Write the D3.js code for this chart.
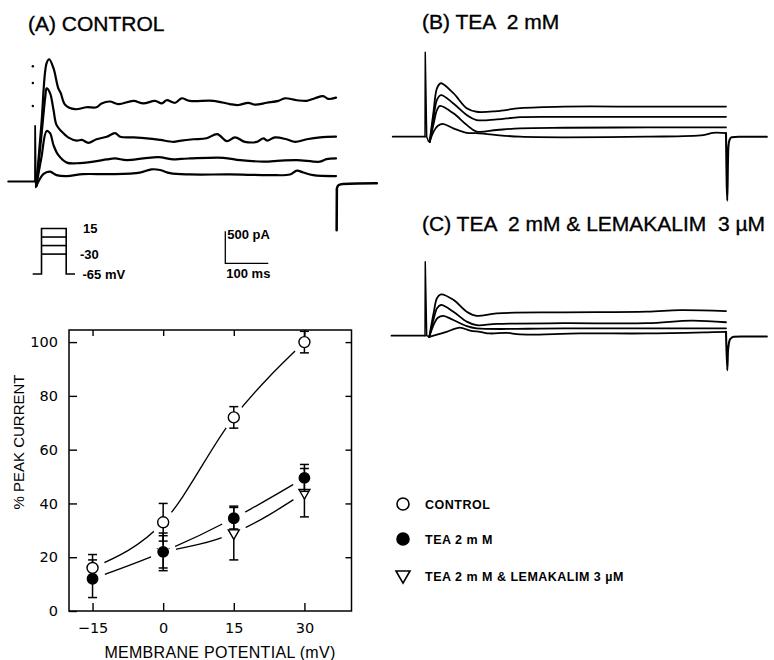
<!DOCTYPE html>
<html><head><meta charset="utf-8">
<script src="https://cdn.jsdelivr.net/npm/d3@7"></script>
<style>
body{margin:0;background:#fff}
svg text{font-family:"Liberation Sans",Arial,Helvetica,sans-serif;fill:#000}
.title{font-size:21px;white-space:pre;stroke:#000;stroke-width:0.35px}
.small{font-size:13px;font-weight:bold}
.legend{font-size:12.5px;font-weight:bold;letter-spacing:0.5px}
.tick text{font-family:"DejaVu Sans",sans-serif;font-size:14.5px}
.axtitle{font-size:16px}
</style></head><body>
<svg id="fig" width="774" height="660"></svg>
<script>
// ---------- whole-cell currents: [time after step onset (ms), current (pA)] ----------
// (A) control, four steps (15, 0, -15, -30 mV from -65 mV)
const controlHolding = [[-62, 0], [0, 0]];
const controlSpike = [[0, 0], [0.3, 870], [2, -90], [3, -70]];
const controlTraces = [
  [[3,-70],[15,900],[27,1850],[33,1910],[43,1770],[54,1460],[60,1380],[70,1200],[93,1130],[120,1160],[143,1160],[155,1220],[174,1250],[194,1210],[229,1260],[252,1220],[279,1260],[295,1220],[306,1270],[326,1230],[341,1300],[360,1260],[415,1260],[453,1210],[473,1195],[496,1230],[512,1200],[539,1230],[566,1260],[581,1300],[609,1270],[632,1260],[651,1300],[670,1335],[682,1290],[700,1310]],
  [[3,-70],[15,720],[24,1330],[27,1455],[35,1380],[43,1120],[50,885],[62,780],[77,690],[97,640],[109,650],[124,605],[143,660],[167,700],[186,755],[198,700],[229,690],[260,675],[291,650],[322,620],[340,640],[368,660],[399,675],[424,740],[446,630],[465,690],[488,620],[516,620],[531,675],[540,640],[558,690],[585,660],[605,620],[632,660],[663,690],[700,700]],
  [[3,-70],[15,380],[27,790],[35,755],[43,570],[54,415],[74,295],[97,285],[136,310],[167,345],[186,360],[213,335],[252,360],[287,380],[322,345],[340,355],[360,360],[438,370],[477,335],[531,310],[570,325],[609,335],[663,310],[678,350],[700,360]],
  [[3,-70],[20,120],[35,155],[50,100],[74,85],[112,115],[174,115],[244,140],[271,190],[291,180],[314,130],[360,110],[453,110],[546,100],[593,110],[609,170],[624,140],[647,100],[700,85]]
];
const controlTail = [[701.5,-760],[702,-110],[706,-55],[716,-38],[750,-30],[795,-28]];
const controlDots = [[-5,1800],[-5,1540],[-5,1180]];

// (B) TEA 2 mM
const teaHolding = [[-75, 0], [0, 0]];
const teaSpike = [[0, 0], [0.6, 1320], [4, 0], [8, -70], [11, -80]];
const teaTraces = [
  [[11,-80],[20,400],[28,760],[37,835],[66,680],[97,445],[120,390],[167,400],[221,445],[322,470],[516,470],[700,470]],
  [[11,-80],[20,300],[28,580],[37,650],[66,520],[97,340],[120,260],[167,270],[221,305],[322,310],[516,310],[700,310]],
  [[11,-80],[20,200],[28,420],[35,480],[66,365],[97,185],[120,80],[167,105],[221,130],[322,140],[516,145],[700,145]],
  [[11,-80],[20,80],[30,170],[41,200],[66,130],[97,60],[120,55],[167,25],[221,0],[322,-10],[516,0],[647,25],[670,60],[700,55]]
];
const teaTail = [[700,55],[703,-1000],[704.5,-400],[705.5,-160],[708,-55],[713,-10],[730,0],[795,0]];

// (C) TEA 2 mM & lemakalim 3 µM
const lemHolding = [[-78, 0], [0, 0]];
const lemSpike = [[0, 0], [0.6, 1155], [4, 0], [10, -20]];
const lemTraces = [
  [[10,-20],[20,350],[28,590],[37,645],[66,560],[97,375],[120,310],[167,350],[322,365],[516,375],[593,400],[700,385]],
  [[10,-20],[20,260],[28,430],[37,480],[66,375],[97,220],[120,165],[167,185],[322,195],[516,195],[620,235],[700,210]],
  [[10,-20],[20,170],[30,280],[42,310],[66,245],[97,150],[120,115],[322,115],[700,115]],
  [[10,-20],[30,20],[50,60],[81,125],[105,80],[128,60],[151,35],[190,45],[221,20],[360,35],[516,35],[670,55],[700,60]]
];
const lemTail = [[700,60],[703,-540],[704.5,-250],[706,-150],[710,-50],[718,-15],[735,-12],[795,-12]];

// voltage protocol (mV)
const holdingPotential = -65;
const stepPotentials = [15, 0, -15, -30];
const protocolLabels = ["15", "-30", "-65 mV"];
const protocolLabelLevels = [15, -30, -65];
const stepDuration = 700; // ms

// scale bar
const barCurrent = 500;  // pA
const barTime = 100;     // ms

// ---------- peak current vs membrane potential ----------
const potentials = [-15, 0, 15, 30];
const controlMean = [16, 33, 72, 100];
const controlErr  = [5, 7, 4, 4];
const teaMean = [12, 22, 34.5, 49.5];
const teaErr  = [7, 7, 4, 5];
const lemMean = [null, 22, 29, 44];
const lemErr  = [null, 6, 10, 9];
const yTicks = [0, 20, 40, 60, 80, 100];
const xTicks = [-15, 0, 15, 30];
const legendLabels = ["CONTROL", "TEA 2 m M", "TEA 2 m M & LEMAKALIM 3 \u00B5M"];

const svg = d3.select("#fig");

// ---------- current-trace panels ----------
const PX_PER_MS = 0.43, PX_PER_PA = 0.064;
function tracePanel(o) {
  const x = d3.scaleLinear().domain([0, stepDuration]).range([o.x0, o.x0 + stepDuration * PX_PER_MS]);
  const y = d3.scaleLinear().domain([0, 500]).range([o.base, o.base - 500 * PX_PER_PA]);
  const g = svg.append("g").attr("fill", "none").attr("stroke", "#000")
    .attr("stroke-linejoin", "round").attr("stroke-linecap", "round");
  const lin = d3.line().x(d => x(d[0])).y(d => y(d[1]));
  const smooth = d3.line().x(d => x(d[0])).y(d => y(d[1])).curve(d3.curveCatmullRom.alpha(0.5));
  const mono = d3.line().x(d => x(d[0])).y(d => y(d[1])).curve(d3.curveMonotoneX);
  g.append("path").attr("d", lin(o.holding)).attr("stroke-width", o.sw);
  g.append("path").attr("d", lin(o.spike)).attr("stroke-width", o.sw * 0.8);
  o.traces.forEach(t => g.append("path").attr("d", smooth(t)).attr("stroke-width", o.sw));
  g.append("path").attr("d", mono(o.tail)).attr("stroke-width", o.sw * 1.15);
  (o.dots || []).forEach(d => svg.append("circle").attr("cx", x(d[0])).attr("cy", y(d[1])).attr("r", 1.2).attr("fill", "#000"));
  svg.append("text").attr("class", "title").attr("x", o.tx).attr("y", o.ty).text(o.title);
  return {x, y};
}

const A = tracePanel({x0: 35, base: 181.5, sw: 2.2, holding: controlHolding, spike: controlSpike,
  traces: controlTraces, tail: controlTail, dots: controlDots, title: "(A) CONTROL", tx: 28, ty: 30.5});
tracePanel({x0: 425, base: 136.7, sw: 1.8, holding: teaHolding, spike: teaSpike,
  traces: teaTraces, tail: teaTail, title: "(B) TEA  2 mM", tx: 422, ty: 28.5});
tracePanel({x0: 425, base: 335.7, sw: 1.8, holding: lemHolding, spike: lemSpike,
  traces: lemTraces, tail: lemTail, title: "(C) TEA  2 mM & LEMAKALIM  3 \u00B5M", tx: 422, ty: 230.5});

// ---------- voltage protocol ----------
{
  const tx = d3.scaleLinear().domain([-250, 950]).range([32.7, 75]);
  const vy = d3.scaleLinear().domain([-65, 15]).range([274, 228.5]);
  const g = svg.append("g").attr("fill", "none").attr("stroke", "#000").attr("stroke-width", 1.6);
  const outline = [[-250, holdingPotential], [0, holdingPotential], [0, d3.max(stepPotentials)],
    [stepDuration, d3.max(stepPotentials)], [stepDuration, holdingPotential], [950, holdingPotential]];
  g.append("path").attr("d", d3.line().x(d => tx(d[0])).y(d => vy(d[1]))(outline));
  stepPotentials.slice(1).forEach(v => g.append("line")
    .attr("x1", tx(0)).attr("x2", tx(stepDuration)).attr("y1", vy(v)).attr("y2", vy(v)));
  const lx = [83, 80, 82.5];
  protocolLabels.forEach((s, i) => svg.append("text").attr("class", "small")
    .attr("x", lx[i]).attr("y", vy(protocolLabelLevels[i])).attr("dy", "0.36em").text(s));
}

// ---------- scale bar (same scale as panel A) ----------
{
  const cx = 225.3, cy = 263.3;
  const h = A.y(0) - A.y(barCurrent), w = A.x(barTime) - A.x(0);
  svg.append("path").attr("fill", "none").attr("stroke", "#000").attr("stroke-width", 1.3)
    .attr("d", `M${cx},${cy - h}V${cy}H${cx + w}`);
  svg.append("text").attr("class", "small").attr("x", cx + 2).attr("y", cy - h + 8).text(barCurrent + " pA");
  svg.append("text").attr("class", "small").attr("x", cx + 1).attr("y", cy + 14.5).text(barTime + " ms");
}

// ---------- % peak current plot ----------
const px = d3.scaleLinear().domain([-20, 40]).range([69, 351.5]);
const py = d3.scaleLinear().domain([0, 104.5]).range([611, 330]);
const plot = svg.append("g");

const series = [
  {mean: controlMean, err: controlErr, kind: "open"},
  {mean: teaMean, err: teaErr, kind: "filled"},
  {mean: lemMean, err: lemErr, kind: "tri"}
];
const pts = s => potentials.map((p, i) => ({x: p, y: s.mean[i], e: s.err[i]})).filter(d => d.y != null);
const curve = d3.line().x(d => px(d.x)).y(d => py(d.y)).curve(d3.curveMonotoneX);

series.forEach(s => plot.append("path").attr("d", curve(pts(s)))
  .attr("fill", "none").attr("stroke", "#000").attr("stroke-width", 1.35));
// clear space around each marker so the fitted lines stop short of it
series.forEach(s => pts(s).forEach(d => plot.append("circle")
  .attr("cx", px(d.x)).attr("cy", py(d.y)).attr("r", 13).attr("fill", "#fff")));

function errorBars(s) {
  pts(s).forEach(d => {
    const g = plot.append("g").attr("stroke", "#000").attr("stroke-width", 1.5);
    const xx = px(d.x);
    g.append("line").attr("x1", xx).attr("x2", xx).attr("y1", py(d.y - d.e)).attr("y2", py(d.y + d.e));
    [d.y - d.e, d.y + d.e].forEach(v => g.append("line")
      .attr("x1", xx - 4.5).attr("x2", xx + 4.5).attr("y1", py(v)).attr("y2", py(v)));
  });
}
const triangle = d3.symbol().type(d3.symbolTriangle);
function markers(s, g) {
  pts(s).forEach(d => {
    const cx = px(d.x), cy = py(d.y);
    if (s.kind === "tri") {
      g.append("path").attr("d", triangle.size(52)()).attr("transform", `translate(${cx},${cy}) rotate(180)`)
        .attr("fill", "#fff").attr("stroke", "#000").attr("stroke-width", 1.4);
    } else {
      g.append("circle").attr("cx", cx).attr("cy", cy).attr("r", s.kind === "open" ? 5.5 : 5.2)
        .attr("fill", s.kind === "open" ? "#fff" : "#000").attr("stroke", "#000").attr("stroke-width", 1.4);
    }
  });
}
errorBars(series[2]);
errorBars(series[0]);
markers(series[2], plot);
pts(series[1]).forEach(d => plot.append("circle").attr("cx", px(d.x)).attr("cy", py(d.y)).attr("r", 6.6).attr("fill", "#fff"));
errorBars(series[1]);
markers(series[0], plot);
markers(series[1], plot);

// frame and inward ticks
plot.append("rect").attr("x", px(-20)).attr("y", py(104.5)).attr("width", px(40) - px(-20)).attr("height", py(0) - py(104.5))
  .attr("fill", "none").attr("stroke", "#000").attr("stroke-width", 1.5);
const axL = plot.append("g").attr("transform", `translate(${px(-20)},0)`)
  .call(d3.axisLeft(py).tickValues(yTicks).tickSize(-8).tickSizeOuter(0).tickPadding(11));
const axB = plot.append("g").attr("transform", `translate(0,${py(0)})`)
  .call(d3.axisBottom(px).tickValues(xTicks).tickSize(-8).tickSizeOuter(0).tickPadding(12)
    .tickFormat(d => d < 0 ? "\u2212" + Math.abs(d) : d));
const axT = plot.append("g").attr("transform", `translate(0,${py(104.5)})`)
  .call(d3.axisTop(px).tickValues(xTicks).tickSize(-6).tickSizeOuter(0).tickFormat(""));
const axR = plot.append("g").attr("transform", `translate(${px(40)},0)`)
  .call(d3.axisRight(py).tickValues(yTicks.slice(1)).tickSize(-6).tickSizeOuter(0).tickFormat(""));
[axL, axB, axT, axR].forEach(a => { a.select(".domain").remove(); a.selectAll("line").attr("stroke-width", 1.4); });

plot.append("text").attr("class", "axtitle").attr("text-anchor", "middle")
  .attr("x", 220).attr("y", 658).style("letter-spacing", "0.3px").text("MEMBRANE POTENTIAL (mV)");
plot.append("text").attr("class", "axtitle").attr("text-anchor", "middle").style("font-size", "15px")
  .attr("transform", "translate(23.5,442) rotate(-90)").text("% PEAK CURRENT");

// legend
const legend = svg.append("g").attr("transform", "translate(403,504)");
legendLabels.forEach((lab, i) => {
  const gy = [0, 35, 72][i];
  const row = legend.append("g").attr("transform", `translate(0,${gy})`);
  if (i === 2) {
    row.append("path").attr("d", triangle.size(85)()).attr("transform", "translate(0,-1) rotate(180)")
      .attr("fill", "#fff").attr("stroke", "#000").attr("stroke-width", 1.6);
  } else {
    row.append("circle").attr("r", 6).attr("fill", i === 1 ? "#000" : "#fff")
      .attr("stroke", "#000").attr("stroke-width", 1.6);
  }
  row.append("text").attr("class", "legend").attr("x", 22).attr("y", 4.5).text(lab);
});
</script>
</body></html>
